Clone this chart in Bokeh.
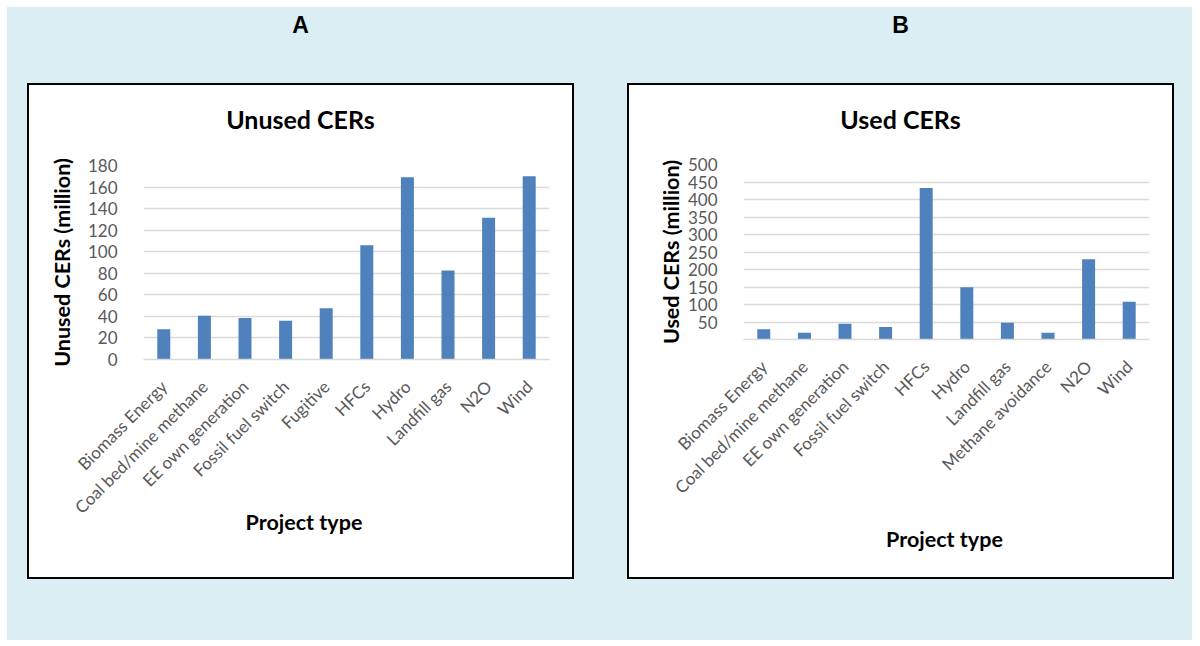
import math
from bokeh.plotting import figure
from bokeh.models import ColumnDataSource, FactorRange, Range1d, FixedTicker, Div, Spacer
from bokeh.layouts import row, column
from bokeh.embed import file_html
from bokeh.resources import INLINE

# ---- data ----
cats_a = ["Biomass Energy", "Coal bed/mine methane", "EE own generation", "Fossil fuel switch",
          "Fugitive", "HFCs", "Hydro", "Landfill gas", "N2O", "Wind"]
unused = [28, 40.5, 38.5, 36, 47.5, 106, 169, 82.5, 131.5, 170]
ticks_a = [0, 20, 40, 60, 80, 100, 120, 140, 160, 180]

cats_b = ["Biomass Energy", "Coal bed/mine methane", "EE own generation", "Fossil fuel switch",
          "HFCs", "Hydro", "Landfill gas", "Methane avoidance", "N2O", "Wind"]
used = [29, 19, 45, 36, 433, 149, 48, 19, 229, 108]
ticks_b = [0, 50, 100, 150, 200, 250, 300, 350, 400, 450, 500]

BAR = "#4f81bd"
GRID = "#d9d9d9"
TICK = "#595959"
BG = "#daeef3"
FONT = "Lato"


def make_fig(cats, vals, ticks, ymax, h, mb, ylabel, ylab_standoff, hide_zero):
    p = figure(x_range=FactorRange(factors=cats, range_padding=0),
               y_range=Range1d(0, ymax), width=543, height=h,
               output_backend="svg", toolbar_location=None,
               min_border_left=mb[0], min_border_right=mb[1],
               min_border_top=mb[2], min_border_bottom=mb[3])
    p.outline_line_color = None
    p.background_fill_color = "white"
    p.border_fill_color = "white"
    src = ColumnDataSource(dict(x=cats, top=vals))
    p.vbar(x="x", top="top", width=0.32, source=src, fill_color=BAR, line_color=None)

    p.xgrid.grid_line_color = None
    p.ygrid.ticker = FixedTicker(ticks=ticks)
    p.ygrid.grid_line_color = GRID
    p.ygrid.grid_line_width = 1.5

    ya = p.yaxis[0]
    ya.ticker = FixedTicker(ticks=ticks)
    ya.axis_line_color = None
    ya.major_tick_line_color = None
    ya.minor_tick_line_color = None
    ya.major_label_standoff = 20
    ya.major_label_text_font = FONT
    ya.major_label_text_font_size = "17px"
    ya.major_label_text_color = TICK
    if hide_zero:
        ya.major_label_overrides = {0: ""}
    ya.axis_label = ylabel
    ya.axis_label_standoff = ylab_standoff
    ya.axis_label_text_font = FONT
    ya.axis_label_text_font_size = "21.5px"
    ya.axis_label_text_font_style = "bold"
    ya.axis_label_text_color = "black"

    xa = p.xaxis[0]
    xa.axis_line_color = GRID
    xa.axis_line_width = 1.5
    xa.major_tick_line_color = None
    xa.minor_tick_line_color = None
    xa.major_label_orientation = math.pi / 4
    xa.major_label_standoff = 18
    xa.major_label_text_font = FONT
    xa.major_label_text_font_size = "17px"
    xa.major_label_text_color = TICK
    return p


def txt_div(text, w, h, size, lh, family=FONT, bg="white", extra=None):
    st = {"font-family": family, "font-size": size, "font-weight": "bold",
          "text-align": "center", "line-height": lh, "color": "black",
          "background-color": bg}
    if extra:
        st.update(extra)
    return Div(text=text, width=w, height=h, margin=0, styles=st)


def panel(title, fig, xlab_shift, lift):
    t = txt_div(title, 543, 68, "25px", "68px")
    xl_div = txt_div("Project type", 543 - xlab_shift, 24, "21.5px", "24px", bg="transparent",
                     extra={"transform": "translateY(-%dpx)" % lift, "white-space": "nowrap"})
    xl = row(Spacer(width=xlab_shift, height=24), xl_div)
    content = column(t, fig, xl, styles={"background-color": "white"})
    mid = row(Spacer(width=2, height=492), content, Spacer(width=2, height=492))
    return column(Spacer(width=547, height=2), mid, Spacer(width=547, height=2),
                  styles={"background-color": "black"})


pa = make_fig(cats_a, unused, ticks_a, 180, 400, (114, 23, 12, 194),
              "Unused CERs (million)", 10, False)
pb = make_fig(cats_b, used, ticks_b, 500, 400, (114, 23, 11, 214),
              "Used CERs (million)", 1, True)

box_a = panel("Unused CERs", pa, 7, 43)
box_b = panel("Used CERs", pb, 88, 26)

div_a = txt_div("A", 547, 36, "23px", "36px", family="Liberation Sans", bg=BG)
div_b = txt_div("B", 547, 36, "23px", "36px", family="Liberation Sans", bg=BG)

top_row = row(Spacer(width=20, height=36), div_a, Spacer(width=53, height=36), div_b,
              Spacer(width=18, height=36))
main_row = row(Spacer(width=20, height=496), box_a, Spacer(width=53, height=496), box_b,
               Spacer(width=18, height=496))
inner = column(top_row, Spacer(width=1185, height=40), main_row, Spacer(width=1185, height=61),
               styles={"background-color": BG})
outer = column(Spacer(width=1192, height=7), row(Spacer(width=7, height=633), inner))

open("out.html", "w").write(file_html(outer, INLINE))
